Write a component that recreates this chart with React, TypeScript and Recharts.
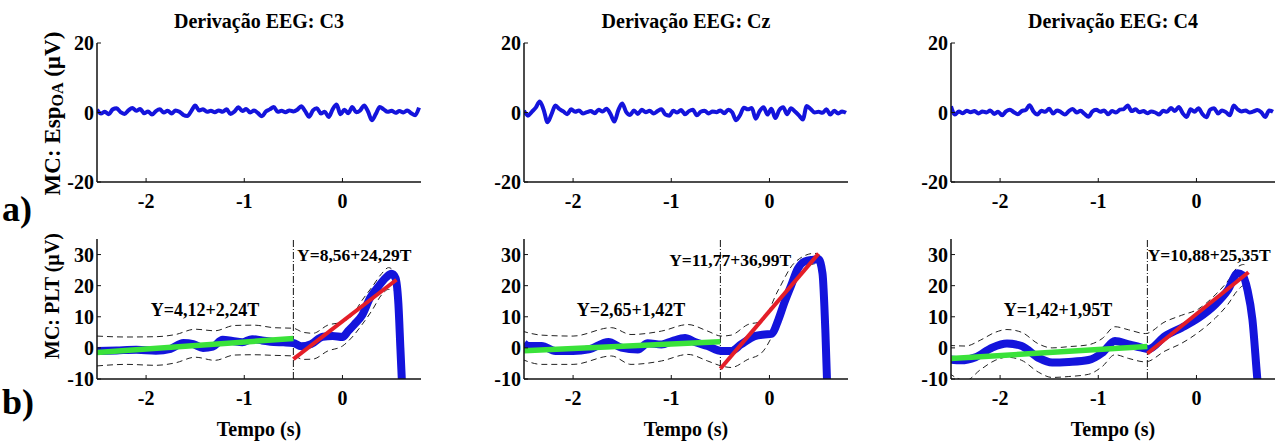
import React from 'react';
import { LineChart, Line, XAxis, YAxis, ReferenceLine, ReferenceDot } from 'recharts';

const FONT = '"Liberation Serif", "Times New Roman", Times, serif';

// ---------- categories / ticks ----------
const TITLES = ['Derivação EEG: C3', 'Derivação EEG: Cz', 'Derivação EEG: C4'];
const X_TICKS = [-2, -1, 0];
const TOP_Y_TICKS = [-20, 0, 20];
const BOT_Y_TICKS = [-10, 0, 10, 20, 30];
const X_DOMAIN: [number, number] = [-2.5, 0.8];
const TOP_Y_DOMAIN: [number, number] = [-20, 20];
const BOT_Y_DOMAIN: [number, number] = [-10, 35];

// ---------- row a) : averaged EEG (time in s) ----------
const TOP_T = [
  -2.5, -2.46, -2.42, -2.38, -2.34, -2.3, -2.26, -2.22, -2.18, -2.14, -2.1, -2.06, -2.02, -1.98, -1.94, -1.9,
  -1.86, -1.82, -1.78, -1.74, -1.7, -1.66, -1.62, -1.58, -1.54, -1.5, -1.46, -1.42, -1.38, -1.34, -1.3, -1.26,
  -1.22, -1.18, -1.14, -1.1, -1.06, -1.02, -0.98, -0.94, -0.9, -0.86, -0.82, -0.78, -0.74, -0.7, -0.66, -0.62,
  -0.58, -0.54, -0.5, -0.46, -0.42, -0.38, -0.34, -0.3, -0.26, -0.22, -0.18, -0.14, -0.1, -0.06, -0.02, 0.02,
  0.06, 0.1, 0.14, 0.18, 0.22, 0.26, 0.3, 0.34, 0.38, 0.42, 0.46, 0.5, 0.54, 0.58, 0.62, 0.66, 0.7, 0.74, 0.78,
];
const TOP_C3 = [
  0.8, -0.3, 0.2, -0.5, 0.9, 1.2, 0.1, -0.4, 0.6, 1.3, 0.5, 1.0, -0.2, 0.3, -0.6, 0.4,
  0.9, 0.0, 0.5, -0.3, 0.6, 0.2, -0.7, -1.0, 0.4, 2.0, 0.6, 0.9, 0.2, 0.5, 0.1, 0.6,
  0.2, 0.9, -0.4, 0.3, 1.5, 0.4, 1.0, 0.0, 0.6, -0.2, -1.1, 0.3, 0.9, 1.6, 0.2, 0.5,
  0.1, 0.6, 0.3, 0.8, 1.8, 0.4, -1.2, 0.6, 1.2, -0.3, 0.2, -1.3, 0.9, 2.3, -0.5, 0.8,
  -0.2, 1.6, 0.1, 0.6, 2.0, 0.3, -2.2, -0.4, 1.6, 0.9, 0.2, 0.5, -0.1, 0.4, 0.0, 0.6, -0.2, -0.8, 1.4,
];
const TOP_CZ = [
  0.5, -0.9, 0.2, 1.4, 3.2, 0.8, -2.8, -0.5, 2.0, 1.0, 0.3, -0.5, 0.9, 0.2, 0.6, -0.3,
  0.1, 0.4, -0.2, 0.8, 0.3, 1.1, -0.4, -2.6, 0.6, 2.6, 0.2, -0.7, 0.6, -0.4, 0.8, 0.1,
  0.5, -0.3, 0.4, 0.9, -0.6, -0.9, 0.5, 0.0, 0.7, -0.5, 0.4, 0.8, -0.8, 0.2, 0.5, -0.3,
  0.3, 0.1, 0.6, -0.2, 0.8, 0.1, -2.2, -0.8, 1.4, 0.9, 1.3, -1.8, 0.4, 1.5, -0.6, 1.1,
  -1.6, 0.7, 1.5, -0.5, 1.2, 0.3, -0.8, -2.0, 1.9, 1.0, 0.0, 0.2, -0.1, 0.9, -0.6, 0.5, -0.3, 0.3, -0.1,
];
const TOP_C4 = [
  1.8, -0.6, 0.3, -0.2, 0.5, 0.1, 0.4, -0.3, 0.3, 0.0, 0.6, -0.4, 0.2, -0.8, 0.3, 0.8,
  0.1, -0.5, 0.4, 0.7, 2.1, 0.3, -0.6, 0.5, 0.2, 1.1, -0.3, 0.6, 0.1, -0.6, 0.4, 1.0,
  0.0, 0.5, -0.4, -1.2, 0.3, 0.8, 0.2, 0.6, -0.5, 0.4, 0.0, 0.8, 1.0, 2.0, 0.4, 0.9,
  0.1, 0.4, -0.2, 0.3, 0.0, -0.6, 0.5, 0.2, 1.3, 0.4, 1.6, -0.2, -1.3, 0.9, 0.2, 1.2,
  -0.4, -1.4, 0.8, 1.2, -0.3, 0.6, 0.1, -0.8, 2.0, 0.9, 0.3, 0.6, 0.0, 0.3, 0.7, 0.1, -1.3, 0.6, 0.2,
];

// ---------- row b) : PLT mean, confidence band and fits ----------
const BLUE_T_C3 = [-2.5, -2.3, -2.1, -1.9, -1.75, -1.62, -1.52, -1.42, -1.32, -1.22, -1.12, -1.02, -0.92, -0.82, -0.7, -0.6, -0.5, -0.42, -0.32, -0.2, -0.1, 0.0, 0.06, 0.12, 0.2, 0.28, 0.36, 0.44, 0.5, 0.54, 0.57, 0.59, 0.61];
const BLUE_Y_C3 = [-1.0, -0.8, -0.6, -0.9, -0.3, 1.6, 1.2, 0.0, 0.4, 2.6, 2.2, 1.8, 2.8, 2.4, 1.9, 1.8, 1.6, 0.5, 1.2, 3.6, 3.8, 3.5, 5.5, 7.5, 10.5, 16, 19.5, 22.5, 23.8, 22.5, 14, 0, -14];
const BAND_T_C3 = [-2.5, -2.2, -1.9, -1.7, -1.5, -1.3, -1.1, -0.9, -0.7, -0.5, -0.4, -0.3, -0.15, 0.0, 0.1, 0.2, 0.3, 0.4, 0.47, 0.52];
const UPPER_C3 = [3.8, 3.5, 3.6, 4.3, 6.0, 5.5, 7.2, 7.3, 6.5, 6.3, 5.0, 4.7, 7.3, 8.4, 10.5, 15.3, 19.5, 23.9, 25.8, 25.0];
const LOWER_C3 = [-5.8, -5.3, -5.6, -4.8, -3.0, -4.0, -2.3, -2.2, -2.4, -2.6, -3.7, -3.6, -1.0, 0.6, 3.5, 7.5, 12, 17.1, 18.8, 18.5];

const BLUE_T_CZ = [-2.5, -2.45, -2.32, -2.18, -2.0, -1.84, -1.64, -1.51, -1.34, -1.24, -1.1, -0.99, -0.86, -0.76, -0.63, -0.49, -0.39, -0.29, -0.15, -0.05, 0.02, 0.09, 0.15, 0.22, 0.29, 0.36, 0.44, 0.5, 0.54, 0.57, 0.59];
const BLUE_Y_CZ = [1.5, 0.6, 0.6, -1.0, -1.0, -0.5, 1.9, 0.1, -0.5, 1.5, 1.1, 2.2, 3.2, 1.9, 0.6, -1.0, -1.0, 1.1, 3.8, 4.3, 4.5, 9, 14.4, 20, 25.5, 27.8, 28.3, 28.5, 24, 5, -14];
const BAND_T_CZ = [-2.52, -2.32, -2.0, -1.61, -1.41, -1.1, -0.83, -0.63, -0.49, -0.39, -0.22, -0.08, 0.09, 0.25, 0.46, 0.52];
const UPPER_CZ = [5.4, 4.1, 3.8, 6.5, 4.3, 5.4, 7.5, 5.4, 3.8, 4.1, 7.5, 8.5, 18.6, 27.2, 30.4, 29.5];
const LOWER_CZ = [-3.7, -5.3, -5.3, -2.6, -5.3, -4.2, -2.1, -4.2, -5.8, -6.3, -3.7, -1.6, 8.0, 20.0, 27.0, 26.5];

const BLUE_T_C4 = [-2.52, -2.4, -2.25, -2.08, -1.93, -1.78, -1.61, -1.47, -1.3, -1.1, -0.96, -0.83, -0.69, -0.56, -0.49, -0.32, -0.15, 0.02, 0.19, 0.32, 0.42, 0.47, 0.52, 0.57, 0.62, 0.65];
const BLUE_Y_C4 = [-3.7, -4.0, -3.0, 0.1, 1.4, 0.6, -3.2, -4.7, -4.5, -3.9, -1.6, 2.2, 1.1, 0.1, -0.4, 3.8, 6.5, 9.6, 13.9, 18.6, 24, 23.4, 18.6, 9.1, -10, -20];
const BAND_T_C4 = [-2.52, -2.35, -2.2, -2.05, -1.93, -1.78, -1.61, -1.47, -1.3, -1.1, -0.96, -0.83, -0.69, -0.52, -0.32, -0.15, 0.02, 0.19, 0.32, 0.42, 0.48, 0.52];
const UPPER_C4 = [0.8, 0.6, 2.5, 5.0, 5.9, 5.0, 1.3, 0.0, 0.4, 1.0, 3.0, 6.8, 5.8, 4.6, 8.4, 10.5, 12.5, 17.0, 21.5, 26.0, 26.8, 26.0];
const LOWER_C4 = [-8.2, -10.5, -7.0, -4.0, -3.0, -4.0, -7.8, -9.5, -9.2, -8.5, -6.0, -2.2, -3.4, -4.5, -1.0, 1.5, 5.0, 9.5, 14.0, 18.5, 20.0, 19.5];

// linear fits (end points)
const GREEN_T = [-2.5, -0.5];
const GREEN_Y_C3 = [-1.48, 3.0];
const GREEN_Y_CZ = [-0.9, 1.94];
const GREEN_Y_C4 = [-3.45, 0.45];
const RED_T_C3 = [-0.5, 0.55];
const RED_Y_C3 = [-3.6, 21.9];
const RED_T_CZ = [-0.5, 0.5];
const RED_Y_CZ = [-6.7, 30.3];
const RED_T_C4 = [-0.5, 0.53];
const RED_Y_C4 = [-1.8, 24.3];

const ONSET = -0.5;

const FIT_TEXT_PRE = ['Y=4,12+2,24T', 'Y=2,65+1,42T', 'Y=1,42+1,95T'];
const FIT_TEXT_POST = ['Y=8,56+24,29T', 'Y=11,77+36,99T', 'Y=10,88+25,35T'];
const FIT_POS_PRE = [[-1.4, 12.2], [-1.41, 12.4], [-1.41, 12.2]];
const FIT_POS_POST = [[0.12, 30.0], [-0.4, 28.2], [0.13, 30.0]];

// ---------- helpers ----------
const zip = (xs: number[], ys: number[]) => xs.map((x, i) => ({ x, y: ys[i] }));

const TOP_SERIES = [TOP_C3, TOP_CZ, TOP_C4];
const BOT = [
  { bt: BLUE_T_C3, by: BLUE_Y_C3, nt: BAND_T_C3, up: UPPER_C3, lo: LOWER_C3, gy: GREEN_Y_C3, rt: RED_T_C3, ry: RED_Y_C3 },
  { bt: BLUE_T_CZ, by: BLUE_Y_CZ, nt: BAND_T_CZ, up: UPPER_CZ, lo: LOWER_CZ, gy: GREEN_Y_CZ, rt: RED_T_CZ, ry: RED_Y_CZ },
  { bt: BLUE_T_C4, by: BLUE_Y_C4, nt: BAND_T_C4, up: UPPER_C4, lo: LOWER_C4, gy: GREEN_Y_C4, rt: RED_T_C4, ry: RED_Y_C4 },
];

const COL_X = [0, 427, 854];
const CHART_W = 425;
const BLUE = '#1414dc';
const GREEN = '#3ae23a';
const RED = '#e41e28';

const tickStyle = { fill: '#000', fontSize: 20, fontWeight: 700, fontFamily: FONT };
const axisStyle = { stroke: '#111', strokeWidth: 1.5 };
const tickLineStyle = { stroke: '#111', strokeWidth: 1 };

const YLabelTop = (props: any) => {
  const vb = props.viewBox || { x: 0, y: 43, width: 97, height: 139 };
  const cx = vb.x + 52;
  const cy = vb.y + vb.height / 2 + 1;
  return (
    <text x={cx} y={cy} transform={`rotate(-90 ${cx} ${cy})`} textAnchor="middle" dominantBaseline="central"
      fill="#000" fontFamily={FONT} fontWeight={700} fontSize={23}>
      <tspan>MC: Esp</tspan>
      <tspan dy={5} fontSize={16}>OA</tspan>
      <tspan dy={-5}> (µV)</tspan>
    </text>
  );
};

const YLabelBot = (props: any) => {
  const vb = props.viewBox || { x: 0, y: 24, width: 97, height: 140 };
  const cx = vb.x + 52;
  const cy = vb.y + vb.height / 2 - 13;
  return (
    <text x={cx} y={cy} transform={`rotate(-90 ${cx} ${cy})`} textAnchor="middle" dominantBaseline="central"
      fill="#000" fontFamily={FONT} fontWeight={700} fontSize={20}>
      MC: PLT (µV)
    </text>
  );
};

function TopPanel({ col }: { col: number }) {
  const data = zip(TOP_T, TOP_SERIES[col]);
  return (
    <div style={{ position: 'absolute', left: COL_X[col], top: 0 }}>
      <LineChart width={CHART_W} height={215} margin={{ top: 43, right: 4, bottom: 0, left: 0 }}>
        <XAxis xAxisId="b" type="number" dataKey="x" domain={X_DOMAIN} ticks={X_TICKS} allowDataOverflow
          orientation="bottom" height={33} tickSize={-4} tickMargin={16} tick={tickStyle}
          axisLine={axisStyle} tickLine={tickLineStyle} interval={0} />
        <XAxis xAxisId="t" type="number" dataKey="x" domain={X_DOMAIN} ticks={X_TICKS} allowDataOverflow
          orientation="top" height={0} tickSize={-4} tick={false} axisLine={axisStyle} tickLine={tickLineStyle} />
        <YAxis yAxisId="l" type="number" domain={TOP_Y_DOMAIN} ticks={TOP_Y_TICKS} allowDataOverflow width={97}
          tickSize={-4} tickMargin={7} tick={tickStyle} axisLine={axisStyle} tickLine={tickLineStyle} interval={0}
          label={col === 0 ? { content: YLabelTop } : undefined} />
        <YAxis yAxisId="r" orientation="right" type="number" domain={TOP_Y_DOMAIN} ticks={TOP_Y_TICKS} allowDataOverflow
          width={0} tickSize={-4} tick={false} axisLine={axisStyle} tickLine={tickLineStyle} />
        <Line xAxisId="b" yAxisId="l" data={data} dataKey="y" type="monotone" stroke={BLUE} strokeWidth={4}
          dot={false} activeDot={false} isAnimationActive={false} />
      </LineChart>
    </div>
  );
}

function BottomPanel({ col }: { col: number }) {
  const s = BOT[col];
  const blue = zip(s.bt, s.by);
  const up = zip(s.nt, s.up);
  const lo = zip(s.nt, s.lo);
  const green = zip(GREEN_T, s.gy);
  const red = zip(s.rt, s.ry);
  return (
    <div style={{ position: 'absolute', left: COL_X[col], top: 215 }}>
      <LineChart width={CHART_W} height={228} margin={{ top: 24, right: 4, bottom: 0, left: 0 }}>
        <XAxis xAxisId="b" type="number" dataKey="x" domain={X_DOMAIN} ticks={X_TICKS} allowDataOverflow
          orientation="bottom" height={64} tickSize={-4} tickMargin={16} tick={tickStyle}
          axisLine={axisStyle} tickLine={tickLineStyle} interval={0}
          label={{ value: 'Tempo (s)', position: 'insideBottom', offset: 7, fill: '#000', fontSize: 20, fontWeight: 700, fontFamily: FONT }} />
        <XAxis xAxisId="t" type="number" dataKey="x" domain={X_DOMAIN} ticks={X_TICKS} allowDataOverflow
          orientation="top" height={0} tickSize={-4} tick={false} axisLine={axisStyle} tickLine={tickLineStyle} />
        <YAxis yAxisId="l" type="number" domain={BOT_Y_DOMAIN} ticks={BOT_Y_TICKS} allowDataOverflow width={97}
          tickSize={-4} tickMargin={7} tick={tickStyle} axisLine={axisStyle} tickLine={tickLineStyle} interval={0}
          label={col === 0 ? { content: YLabelBot } : undefined} />
        <YAxis yAxisId="r" orientation="right" type="number" domain={BOT_Y_DOMAIN} ticks={BOT_Y_TICKS} allowDataOverflow
          width={0} tickSize={-4} tick={false} axisLine={axisStyle} tickLine={tickLineStyle} />
        <ReferenceLine xAxisId="b" yAxisId="l" x={ONSET} stroke="#111" strokeWidth={1} strokeDasharray="7 2 1 2" />
        <Line xAxisId="b" yAxisId="l" data={up} dataKey="y" type="monotone" stroke="#222" strokeWidth={1}
          strokeDasharray="6 4" dot={false} activeDot={false} isAnimationActive={false} />
        <Line xAxisId="b" yAxisId="l" data={lo} dataKey="y" type="monotone" stroke="#222" strokeWidth={1}
          strokeDasharray="6 4" dot={false} activeDot={false} isAnimationActive={false} />
        <Line xAxisId="b" yAxisId="l" data={blue} dataKey="y" type="monotone" stroke={BLUE} strokeWidth={8}
          dot={false} activeDot={false} isAnimationActive={false} />
        <Line xAxisId="b" yAxisId="l" data={green} dataKey="y" type="linear" stroke={GREEN} strokeWidth={5.5}
          dot={false} activeDot={false} isAnimationActive={false} />
        <Line xAxisId="b" yAxisId="l" data={red} dataKey="y" type="linear" stroke={RED} strokeWidth={4}
          dot={false} activeDot={false} isAnimationActive={false} />
        <ReferenceDot xAxisId="b" yAxisId="l" x={FIT_POS_PRE[col][0]} y={FIT_POS_PRE[col][1]} r={1}
          fill="none" stroke="none"
          label={{ value: FIT_TEXT_PRE[col], position: 'center', fill: '#000', fontSize: 18, fontWeight: 700, fontFamily: FONT }} />
        <ReferenceDot xAxisId="b" yAxisId="l" x={FIT_POS_POST[col][0]} y={FIT_POS_POST[col][1]} r={1}
          fill="none" stroke="none"
          label={{ value: FIT_TEXT_POST[col], position: 'center', fill: '#000', fontSize: 17.5, fontWeight: 700, fontFamily: FONT }} />
      </LineChart>
    </div>
  );
}

export default function App() {
  return (
    <div style={{ position: 'absolute', left: 0, top: 0, width: 1276, height: 443, overflow: 'hidden', background: '#fff', fontFamily: FONT }}>
      {[0, 1, 2].map((c) => <TopPanel key={'t' + c} col={c} />)}
      {[0, 1, 2].map((c) => <BottomPanel key={'b' + c} col={c} />)}
      <svg width={1276} height={443} style={{ position: 'absolute', left: 0, top: 0, pointerEvents: 'none' }}>
        {TITLES.map((t, i) => (
          <text key={t} x={COL_X[i] + 97 + 162} y={28} textAnchor="middle" fontFamily={FONT} fontWeight={700} fontSize={20} fill="#000">{t}</text>
        ))}
        <text x={2} y={221} fontFamily={FONT} fontWeight={700} fontSize={36} fill="#000">a)</text>
        <text x={2} y={414} fontFamily={FONT} fontWeight={700} fontSize={36} fill="#000">b)</text>
      </svg>
    </div>
  );
}
